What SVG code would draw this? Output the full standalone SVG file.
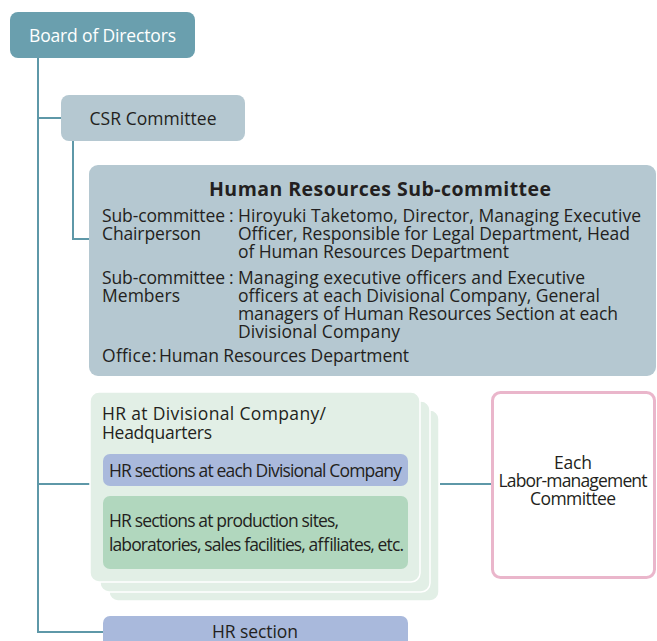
<svg xmlns="http://www.w3.org/2000/svg" width="657" height="641" viewBox="0 0 657 641">
<style>
text{font-family:"Open Sans","Liberation Sans",sans-serif;fill:#231f20;font-size:17.5px}
.conn{stroke:#5e98a8;stroke-width:2;fill:none}
.card{fill:#e2efe6;stroke:#ffffff;stroke-width:1.5}
.blue{fill:#a9b9dc}
</style>
<g id="connectors">
<path class="conn" d="M38 58V632H104"/>
<path class="conn" d="M38 118H62"/>
<path class="conn" d="M73 141V239H90"/>
<path class="conn" d="M38 484H91"/>
<path class="conn" d="M440 484H492"/>
</g>
<g id="board">
<rect x="10" y="12" width="185" height="46" rx="8" fill="#6a9fae"/>
<text x="102.5" y="42" text-anchor="middle" style="fill:#ffffff;font-size:17.5px" textLength="147">Board of Directors</text>
</g>
<g id="csr">
<rect x="61" y="95" width="184" height="46" rx="8" fill="#b5c8d1"/>
<text x="153" y="125" text-anchor="middle" style="font-size:17.5px" textLength="127">CSR Committee</text>
</g>
<g id="hr-subcommittee">
<rect x="89" y="165" width="567" height="211" rx="9" fill="#b5c8d1"/>
<text x="380" y="196" text-anchor="middle" style="font-weight:bold;font-size:19.5px" textLength="342">Human Resources Sub-committee</text>
<text x="102" y="222" textLength="123">Sub-committee</text>
<text x="229" y="222">:</text>
<text x="238" y="222" textLength="403">Hiroyuki Taketomo, Director, Managing Executive</text>
<text x="102" y="240" textLength="99">Chairperson</text>
<text x="238" y="240" textLength="392">Officer, Responsible for Legal Department, Head</text>
<text x="238" y="258" textLength="271">of Human Resources Department</text>
<text x="102" y="284" textLength="123">Sub-committee</text>
<text x="229" y="284">:</text>
<text x="238" y="284" textLength="347">Managing executive officers and Executive</text>
<text x="102" y="302" textLength="78">Members</text>
<text x="238" y="302" textLength="362">officers at each Divisional Company, General</text>
<text x="238" y="320" textLength="380">managers of Human Resources Section at each</text>
<text x="238" y="338" textLength="162">Divisional Company</text>
<text x="102" y="362" textLength="49">Office</text>
<text x="152" y="362">:</text>
<text x="159" y="362" textLength="250">Human Resources Department</text>
</g>
<g id="hr-divisional">
<rect class="card" x="109" y="410" width="330" height="191" rx="9"/>
<rect class="card" x="100" y="401" width="330" height="191" rx="9"/>
<rect class="card" x="90" y="392" width="330" height="190" rx="9"/>
<text x="102" y="420" textLength="224">HR at Divisional Company/</text>
<text x="102" y="439" textLength="110">Headquarters</text>
<g id="hr-sections-divisional">
<rect class="blue" x="103" y="454" width="305" height="32" rx="7"/>
<text x="109" y="477" textLength="293">HR sections at each Divisional Company</text>
</g>
<g id="hr-sections-sites">
<rect x="103" y="496" width="305" height="73" rx="7" fill="#b1d7be"/>
<text x="109" y="527" textLength="230">HR sections at production sites,</text>
<text x="109" y="551" textLength="295">laboratories, sales facilities, affiliates, etc.</text>
</g>
</g>
<g id="labor">
<rect x="492.5" y="392.5" width="162" height="185" rx="8" fill="#ffffff" stroke="#eab6cb" stroke-width="3"/>
<text x="573" y="469" text-anchor="middle" textLength="38">Each</text>
<text x="573" y="487" text-anchor="middle" textLength="149">Labor-management</text>
<text x="573" y="505" text-anchor="middle" textLength="86">Committee</text>
</g>
<g id="hr-section">
<rect class="blue" x="103" y="616" width="305" height="40" rx="7"/>
<text x="255" y="638" text-anchor="middle" textLength="86">HR section</text>
</g>
</svg>
